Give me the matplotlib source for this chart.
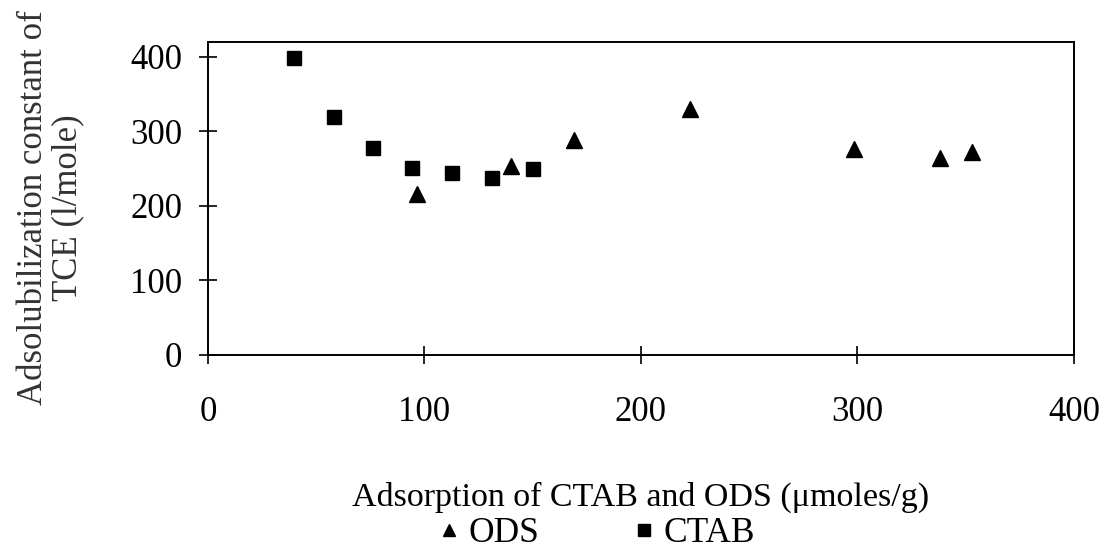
import matplotlib
matplotlib.use("Agg")
import matplotlib.pyplot as plt

plt.rcParams["font.family"] = ["Liberation Serif", "DejaVu Serif"]

# CTAB (squares)
ctab_x = [39.9, 58.1, 76.1, 94.4, 112.6, 131.4, 150.3]
ctab_y = [398, 320, 278, 251, 244, 237, 249]

# ODS (triangles)
ods_x = [96.4, 139.8, 168.9, 222.6, 298.5, 338.0, 352.7]
ods_y = [216, 253, 288, 330, 277, 264, 273]

fig = plt.figure(figsize=(11.04, 5.52), dpi=100)
ax = fig.add_axes([0.1884, 0.3569, 0.7844, 0.567])

ax.plot(ods_x, ods_y, linestyle="none", marker="^", markersize=11,
        color="black", label="ODS")
ax.plot(ctab_x, ctab_y, linestyle="none", marker="s", markersize=10,
        color="black", label="CTAB")

ax.set_xlim(0, 400)
ax.set_ylim(0, 420)
ax.set_xticks([0, 100, 200, 300, 400])
ax.set_yticks([0, 100, 200, 300, 400])

for s in ax.spines.values():
    s.set_linewidth(1.4)

ax.tick_params(axis="both", direction="inout", length=13, width=1.2,
               labelsize=25)
ax.tick_params(axis="x", pad=23)
ax.tick_params(axis="y", pad=12)

ax.set_xlabel("Adsorption of CTAB and ODS (\u03bcmoles/g)", fontsize=24.5,
              labelpad=38)
ax.set_ylabel("Adsolubilization constant of\nTCE (l/mole)", fontsize=25,
              color="#333333", linespacing=1.05)
ax.yaxis.set_label_coords(-0.143, 0.47)

fig.legend(loc="center", bbox_to_anchor=(594 / 1104, 1 - 534 / 552),
           ncol=2, frameon=False, fontsize=25.5, handletextpad=0.1,
           columnspacing=2.5, markerscale=0.8, handlelength=0.9,
           borderpad=0)

fig.savefig("out.png", dpi=100)
